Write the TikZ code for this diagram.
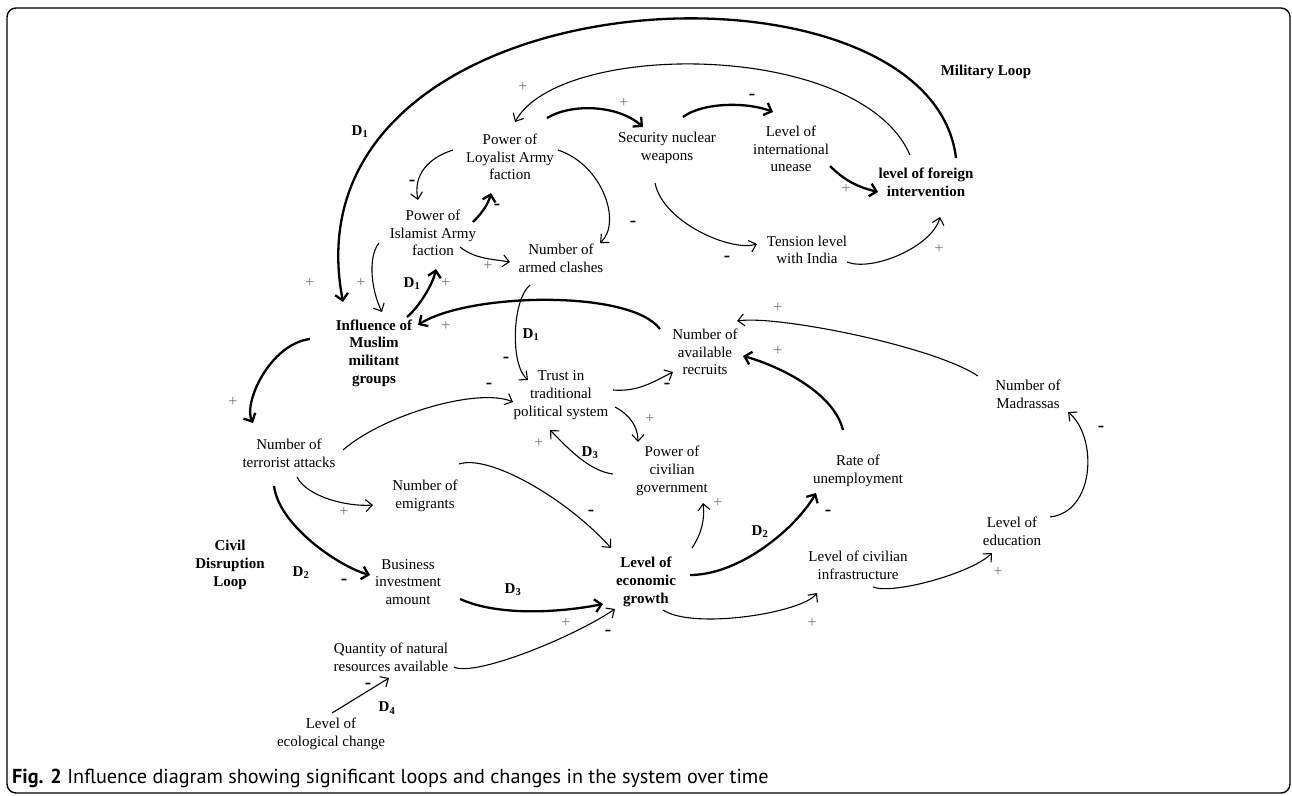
\documentclass[tikz,border=0pt]{standalone}
\usepackage{fontspec}
\setmainfont{Liberation Serif}
\newfontfamily\capfont{PT Sans}
\usetikzlibrary{arrows.meta}
\begin{document}
\begin{tikzpicture}[x=1pt,y=-1pt,
  lbl/.style={font=\fontsize{15}{17.7}\selectfont, align=center, inner sep=0pt},
  blbl/.style={font=\fontsize{15}{17.7}\selectfont\bfseries, align=center, inner sep=0pt},
  thinarr/.style={line width=1.1pt, -{Straight Barb[length=6.5pt,width=12pt]}},
  thickarr/.style={line width=2.3pt, -{Straight Barb[length=6.5pt,width=13pt]}},
  pl/.style={font=\fontsize{16}{16}\selectfont, text=black!55, inner sep=0pt},
  mn/.style={font=\fontsize{19}{19}\selectfont\bfseries, inner sep=0pt},
  dl/.style={font=\fontsize{15}{15}\selectfont\bfseries, inner sep=0pt}]
\useasboundingbox (0,0) rectangle (1292,795);
\draw[line width=1.4pt, rounded corners=9pt] (7,8) rectangle (1290,793);

% nodes
\node[lbl] (loyal) at (510,157) {Power of\\Loyalist Army\\faction};
\node[lbl] (secur) at (667,148) {Security nuclear\\weapons};
\node[lbl] (islam) at (433,233) {Power of\\Islamist Army\\faction};
\node[lbl] (clash) at (561,258) {Number of\\armed clashes};
\node[lbl] (intl) at (791,149) {Level of\\international\\unease};
\node[blbl] (foreign) at (926,182) {level of foreign\\intervention};
\node[lbl] (india) at (807,250) {Tension level\\with India};
\node[blbl] (milloop) at (986,72) {Military Loop};
\node[blbl] (infl) at (374,353) {Influence of\\Muslim\\militant\\groups};
\node[lbl] (terr) at (289,453) {Number of\\terrorist attacks};
\node[lbl] (trust) at (561,395) {Trust in\\traditional\\political system};
\node[lbl] (emig) at (425,496) {Number of\\emigrants};
\node[lbl] (busi) at (408,582) {Business\\investment\\amount};
\node[blbl] (civloop) at (230,565) {Civil\\Disruption\\Loop};
\node[blbl] (growth) at (646,582) {Level of\\economic\\growth};
\node[lbl] (quant) at (391,657) {Quantity of natural\\resources available};
\node[lbl] (ecol) at (331,734) {Level of\\ecological change};
\node[lbl] (recr) at (705,352) {Number of\\available\\recruits};
\node[lbl] (civgov) at (672,471) {Power of\\civilian\\government};
\node[lbl] (unemp) at (858,471) {Rate of\\unemployment};
\node[lbl] (madr) at (1028,394) {Number of\\Madrassas};
\node[lbl] (educ) at (1012,531) {Level of\\education};
\node[lbl] (infra) at (858,565) {Level of civilian\\infrastructure};

\node[anchor=west, font=\capfont\fontsize{20.2}{20.2}\selectfont, inner sep=0pt] (cap) at (12,778)
  {\textbf{Fig. 2} Influence diagram showing significant loops and changes in the system over time};

% connectors
\draw[thickarr] ([shift={(30,-24)}]foreign.center) .. controls (930,-60) and (280,-30) .. ([shift={(-31,-51)}]infl.center);
\draw[thinarr] ([shift={(-16,-27)}]foreign.center) .. controls (860,40) and (560,40) .. ([shift={(5,-35)}]loyal.center);
\draw[thickarr] ([shift={(37,-39)}]loyal.center) .. controls +(25,-15) and +(-25,-22) .. ([shift={(-24,-21)}]secur.center);
\draw[thickarr] ([shift={(16,-31)}]secur.center) .. controls +(20,-15) and +(-25,-10) .. ([shift={(-18,-37)}]intl.center);
\draw[thickarr] ([shift={(39,17)}]intl.center) .. controls +(15,15) and +(-20,-5) .. ([shift={(-48,10)}]foreign.center);
\draw[thinarr] ([shift={(-12,35)}]secur.center) .. controls +(8,40) and +(-25,8) .. ([shift={(-50,-6)}]india.center);
\draw[thinarr] ([shift={(40,12)}]india.center) .. controls +(25,10) and +(-8,30) .. ([shift={(14,35)}]foreign.center);
\draw[thinarr] ([shift={(-57,-7)}]loyal.center) .. controls +(-25,8) and +(-5,-25) .. ([shift={(-15,-33)}]islam.center);
\draw[thickarr] ([shift={(40,-11)}]islam.center) .. controls +(8,-8) and +(-3,12) .. ([shift={(-19,36)}]loyal.center);
\draw[thinarr] ([shift={(48,-7)}]loyal.center) .. controls +(45,15) and +(22,-20) .. ([shift={(39,-15)}]clash.center);
\draw[thinarr] ([shift={(27,14)}]islam.center) .. controls +(15,12) and +(-18,-3) .. ([shift={(-51,4)}]clash.center);
\draw[thinarr] ([shift={(-54,10)}]islam.center) .. controls +(-12,15) and +(-10,-20) .. ([shift={(8,-41)}]infl.center);
\draw[thickarr] ([shift={(33,-36)}]infl.center) .. controls +(12,-10) and +(-3,15) .. ([shift={(3,36)}]islam.center);
\draw[thickarr] ([shift={(-45,-23)}]recr.center) .. controls +(-30,-40) and +(50,-32) .. ([shift={(44,-28)}]infl.center);
\draw[thinarr] ([shift={(-31,27)}]clash.center) .. controls +(-18,15) and +(-18,-15) .. ([shift={(-33,-15)}]trust.center);
\draw[thickarr] ([shift={(-64,-14)}]infl.center) .. controls +(-40,5) and +(-10,-20) .. ([shift={(-36,-30)}]terr.center);
\draw[thinarr] ([shift={(54,-3)}]terr.center) .. controls +(40,-35) and +(-35,-15) .. ([shift={(-48,7)}]trust.center);
\draw[thinarr] ([shift={(52,-5)}]trust.center) .. controls +(25,2) and +(-20,10) .. ([shift={(-32,20)}]recr.center);
\draw[thinarr] ([shift={(54,12)}]trust.center) .. controls +(15,8) and +(0,-15) .. ([shift={(-34,-29)}]civgov.center);
\draw[thinarr] ([shift={(-59,3)}]civgov.center) .. controls +(-25,-3) and +(15,15) .. ([shift={(-11,35)}]trust.center);
\draw[thickarr] ([shift={(-15,-41)}]unemp.center) .. controls +(-10,-40) and +(30,8) .. ([shift={(38,4)}]recr.center);
\draw[thinarr] ([shift={(-50,-18)}]madr.center) .. controls +(-45,-30) and +(40,-6) .. ([shift={(32,-31)}]recr.center);
\draw[thinarr] ([shift={(38,-14)}]educ.center) .. controls +(45,-5) and +(30,25) .. ([shift={(40,18)}]madr.center);
\draw[thinarr] ([shift={(15,22)}]infra.center) .. controls +(20,8) and +(-20,20) .. ([shift={(-20,22)}]educ.center);
\draw[thinarr] ([shift={(8,24)}]terr.center) .. controls +(10,20) and +(-25,2) .. ([shift={(-52,9)}]emig.center);
\draw[thickarr] ([shift={(-15,33)}]terr.center) .. controls +(5,40) and +(-30,-8) .. ([shift={(-38,-7)}]busi.center);
\draw[thinarr] ([shift={(34,-32)}]emig.center) .. controls +(30,-10) and +(-45,-50) .. ([shift={(-35,-34)}]growth.center);
\draw[thickarr] ([shift={(52,17)}]busi.center) .. controls +(40,18) and +(-40,8) .. ([shift={(-43,22)}]growth.center);
\draw[thinarr] ([shift={(63,10)}]quant.center) .. controls +(20,10) and +(-45,30) .. ([shift={(-31,27)}]growth.center);
\draw[thinarr] ([shift={(1,-21)}]ecol.center) -- ([shift={(-2,21)}]quant.center);
\draw[thinarr] ([shift={(46,-34)}]growth.center) .. controls +(10,-15) and +(2,15) .. ([shift={(31,32)}]civgov.center);
\draw[thickarr] ([shift={(44,-7)}]growth.center) .. controls +(50,0) and +(-20,35) .. ([shift={(-42,22)}]unemp.center);
\draw[thinarr] ([shift={(17,28)}]growth.center) .. controls +(30,20) and +(-15,20) .. ([shift={(-41,28)}]infra.center);

% polarity signs
\node[pl] (p1) at (523,87) {+};
\node[pl] (p2) at (624,103) {+};
\node[pl] (p3) at (846,189) {+};
\node[pl] (p4) at (939,249) {+};
\node[pl] (p5) at (310,283) {+};
\node[pl] (p6) at (361,283) {+};
\node[pl] (p7) at (446,283) {+};
\node[pl] (p8) at (488,266) {+};
\node[pl] (p9) at (446,326) {+};
\node[pl] (p10) at (233,402) {+};
\node[pl] (p11) at (650,419) {+};
\node[pl] (p12) at (539,443) {+};
\node[pl] (p13) at (778,351) {+};
\node[pl] (p14) at (778,308) {+};
\node[pl] (p15) at (998,572) {+};
\node[pl] (p16) at (344,512) {+};
\node[pl] (p17) at (566,623) {+};
\node[pl] (p18) at (718,503) {+};
\node[pl] (p19) at (812,623) {+};

\node[mn] (m1) at (752,97) {-};
\node[mn] (m2) at (727,259) {-};
\node[mn] (m3) at (412,183) {-};
\node[mn] (m4) at (497,207) {-};
\node[mn] (m5) at (633,224) {-};
\node[mn] (m6) at (506,360) {-};
\node[mn] (m7) at (489,386) {-};
\node[mn] (m8) at (667,386) {-};
\node[mn] (m9) at (1101,429) {-};
\node[mn] (m10) at (344,582) {-};
\node[mn] (m11) at (591,513) {-};
\node[mn] (m12) at (608,633) {-};
\node[mn] (m13) at (368,686) {-};
\node[mn] (m14) at (828,513) {-};

% delay labels
\node[dl] (d1a) at (360,132) {D\textsubscript{1}};
\node[dl] (d1b) at (412,284) {D\textsubscript{1}};
\node[dl] (d1c) at (531,335) {D\textsubscript{1}};
\node[dl] (d2a) at (301,573) {D\textsubscript{2}};
\node[dl] (d2b) at (760,532) {D\textsubscript{2}};
\node[dl] (d3a) at (590,453) {D\textsubscript{3}};
\node[dl] (d3b) at (513,590) {D\textsubscript{3}};
\node[dl] (d4) at (387,708) {D\textsubscript{4}};
\end{tikzpicture}
\end{document}
